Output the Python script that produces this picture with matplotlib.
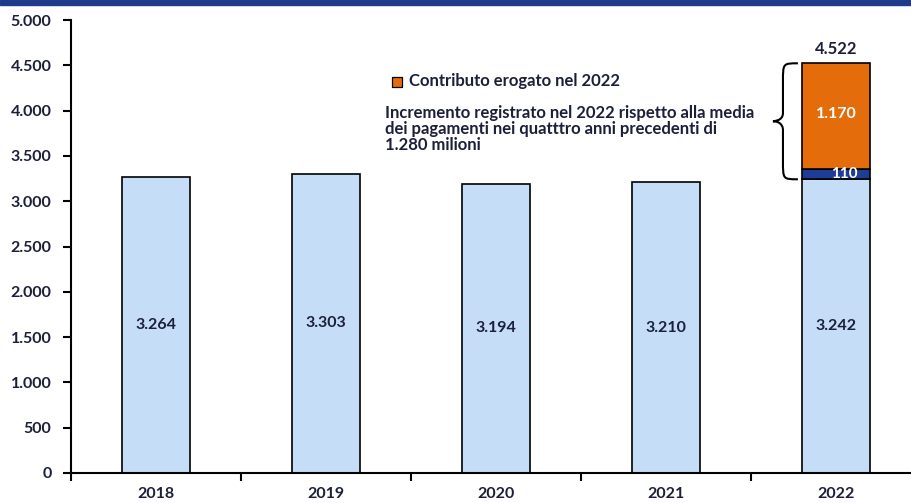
import matplotlib
matplotlib.use("Agg")
import matplotlib.pyplot as plt
from matplotlib.patches import Rectangle, PathPatch
from matplotlib.path import Path

years = ["2018", "2019", "2020", "2021", "2022"]
base_values = [3264, 3303, 3194, 3210, 3242]
increment_2022 = 110
contributo_2022 = 1170
total_2022 = 4522
yticks = [0, 500, 1000, 1500, 2000, 2500, 3000, 3500, 4000, 4500, 5000]

def fmt(v):
    return f"{v:,}".replace(",", ".")

plt.rcParams['font.family'] = ['Lato', 'DejaVu Sans']
plt.rcParams['font.weight'] = 'bold'
txt = '#1c1f3a'
light = '#C5DDF7'
dark = '#1F3C96'
orange = '#E46C0A'

fig = plt.figure(figsize=(9.12, 5.03), dpi=100)
fig.patches.append(Rectangle((0, 1 - 5/503), 1, 5/503, transform=fig.transFigure,
                             color='#1F3A8A', zorder=0))
ax = fig.add_axes([71/912, 30/503, 850/912, 453/503])

x = list(range(len(years)))
w = 0.40
ax.bar(x, base_values, width=w, color=light, edgecolor='black', linewidth=1.2, zorder=2)
ax.bar(4, increment_2022, bottom=base_values[4], width=w, color=dark,
       edgecolor='black', linewidth=1.2, zorder=2)
ax.bar(4, contributo_2022, bottom=base_values[4] + increment_2022, width=w,
       color=orange, edgecolor='black', linewidth=1.2, zorder=2)

for i, v in enumerate(base_values):
    ax.text(i, v / 2, fmt(v), ha='center', va='center', fontsize=11.5,
            color=txt, fontweight='bold', zorder=3)
ax.text(4 + 0.05, base_values[4] + increment_2022 / 2, fmt(increment_2022), ha='center',
        va='center', fontsize=11, color='white', fontweight='bold', zorder=3)
ax.text(4, base_values[4] + increment_2022 + contributo_2022 / 2 + 30, fmt(contributo_2022),
        ha='center', va='center', fontsize=11.5, color='white', fontweight='bold', zorder=3)
ax.text(4, total_2022 + 70, fmt(total_2022), ha='center', va='bottom', fontsize=12,
        color=txt, fontweight='bold', zorder=3)

# curly brace spanning the increment + contribution
y0 = base_values[4]
y1 = total_2022
ym = (y0 + y1) / 2
xe, xa, xt = 3.776, 3.688, 3.629
verts = [(xe, y1),
         (xa, y1), (xa, y1), (xa, y1 - 200),
         (xa, ym + 90),
         (xa, ym), (xt, ym), (xt, ym),
         (xa, ym), (xa, ym - 90), (xa, ym - 90),
         (xa, y0 + 200),
         (xa, y0), (xa, y0), (xe, y0)]
codes = [Path.MOVETO,
         Path.CURVE4, Path.CURVE4, Path.CURVE4,
         Path.LINETO,
         Path.CURVE4, Path.CURVE4, Path.CURVE4,
         Path.CURVE4, Path.CURVE4, Path.CURVE4,
         Path.LINETO,
         Path.CURVE4, Path.CURVE4, Path.CURVE4]
ax.add_patch(PathPatch(Path(verts, codes), fill=False, edgecolor='black', lw=1.5,
                       clip_on=False, zorder=3))

# legend-like annotation
ax.add_patch(Rectangle((1.39, 4260), 0.06, 110, facecolor=orange, edgecolor='black',
                       lw=0.9, zorder=3))
ax.text(1.49, 4330, "Contributo erogato nel 2022", ha='left', va='center', fontsize=12,
        color=txt, fontweight='bold')
ax.text(1.347, 4065, "Incremento registrato nel 2022 rispetto alla media\n"
        "dei pagamenti nei quatttro anni precedenti di\n1.280 milioni",
        ha='left', va='top', fontsize=12, color=txt, fontweight='bold', linespacing=1.0)

ax.set_xlim(-0.5, 4.5)
ax.set_ylim(0, 5000)
ax.set_yticks(yticks)
ax.set_yticklabels([fmt(v) for v in yticks], fontsize=11.5, color=txt, fontweight='bold')
ax.set_xticks([-0.5, 0.5, 1.5, 2.5, 3.5, 4.5])
ax.set_xticklabels([])
ax.set_xticks(x, minor=True)
ax.set_xticklabels(years, minor=True, fontsize=11.5, color=txt, fontweight='bold')
ax.tick_params(axis='x', which='minor', length=0, pad=10)
ax.tick_params(axis='x', which='major', length=6, width=1.5, direction='out')
ax.tick_params(axis='y', length=6, width=1.5, direction='out', pad=8)
for s in ['top', 'right']:
    ax.spines[s].set_visible(False)
for s in ['left', 'bottom']:
    ax.spines[s].set_linewidth(1.5)

fig.savefig("out.png", dpi=100)
